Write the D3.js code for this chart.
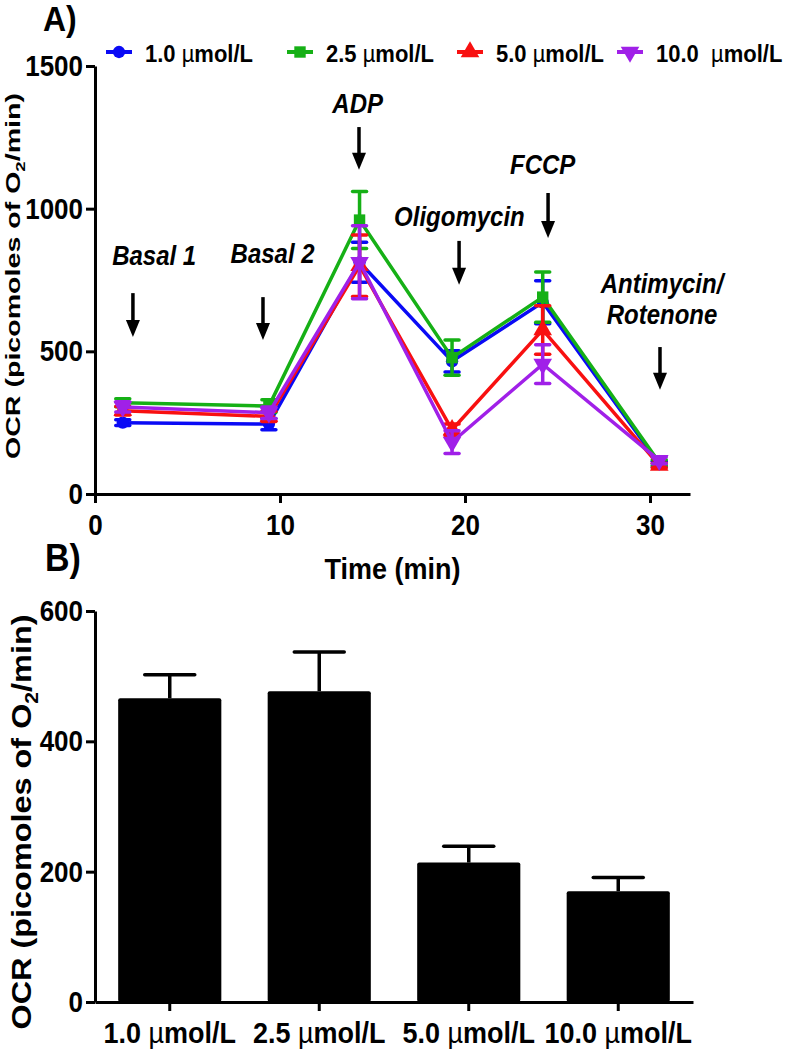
<!DOCTYPE html>
<html><head><meta charset="utf-8">
<script src="https://cdn.jsdelivr.net/npm/d3@7/dist/d3.min.js"></script>
<style>
body{margin:0;background:#fff}
svg text{font-family:Arial,"Liberation Sans",sans-serif;font-weight:bold;fill:#000}
svg text.st{transform-box:fill-box;transform-origin:center;transform:scaleY(1.12)}
</style>
</head><body>
<svg id="c" width="788" height="1050"></svg>
<script>
// ---------- DATA ----------
const times = [1.5, 9.4, 14.3, 19.3, 24.2, 30.5];           // min
const concentrations = ["1.0", "2.5", "5.0", "10.0"];
const unit = "µmol/L";
const seriesColors = ["#0a0af5", "#16b016", "#f81010", "#a020e8"];
const seriesSymbols = ["circle", "square", "triangle", "triangleDown"];
const ocr_1_0  = [250, 245, 812, 465, 672, 105];
const err_1_0  = [10, 20, 70, 37, 75, 10];
const ocr_2_5  = [320, 308, 960, 478, 690, 110];
const err_2_5  = [14, 22, 100, 62, 88, 10];
const ocr_5_0  = [292, 272, 800, 225, 575, 100];
const err_5_0  = [15, 18, 108, 20, 85, 8];
const ocr_10_0 = [305, 285, 812, 182, 455, 118];
const err_10_0 = [18, 20, 128, 40, 68, 12];
const xTicksA = [0, 10, 20, 30];
const yTicksA = [0, 500, 1000, 1500];
// annotations (data units): label lines, label x, label baseline, arrow x, arrow top, arrow tip
const annLabels = [["Basal 1"], ["Basal 2"], ["ADP"], ["Oligomycin"], ["FCCP"], ["Antimycin/", "Rotenone"]];
const annLabelX = [3.2, 9.6, 14.2, 19.7, 24.2, 30.65];
const annLabelY = [806, 813, 1339, 943, 1125, 708];
const annArrowX = [2.05, 9.08, 14.27, 19.68, 24.49, 30.54];
const annArrowTop = [704, 690, 1286, 887, 1055, 515];
const annArrowTip = [550, 540, 1136, 733, 897, 365];
// Panel B
const barCategories = ["1.0 µmol/L", "2.5 µmol/L", "5.0 µmol/L", "10.0 µmol/L"];
const barValues = [466, 477, 214, 170];
const barErrors = [36, 60, 25, 21];
const yTicksB = [0, 200, 400, 600];

// ---------- LAYOUT ----------
const svg = d3.select("#c");
const AX = {left: 95, right: 690, top: 66, bottom: 494};
const BX = {left: 95, right: 693, top: 611, bottom: 1002};
const legendX = [106, 287, 457, 617];
const legendY = 52;

function styleAxis(g, fs) {
  g.select(".domain").attr("stroke", "#000").attr("stroke-width", 3);
  g.selectAll(".tick line").attr("stroke", "#000").attr("stroke-width", 3);
  g.selectAll(".tick text").attr("font-size", fs).attr("font-family", null).attr("fill", "#000").classed("st", true);
}

// ---------- PANEL A ----------
const xA = d3.scaleLinear().domain([0, (AX.right - AX.left) / 18.5]).range([AX.left, AX.right]);
const yA = d3.scaleLinear().domain([0, 1500]).range([AX.bottom, AX.top]);

const gxA = svg.append("g").attr("transform", `translate(0,${AX.bottom})`)
  .call(d3.axisBottom(xA).tickValues(xTicksA).tickFormat(d3.format("d")).tickSize(9).tickSizeOuter(0).tickPadding(12));
styleAxis(gxA, 26);
const gyA = svg.append("g").attr("transform", `translate(${AX.left},0)`)
  .call(d3.axisLeft(yA).tickValues(yTicksA).tickFormat(d3.format("d")).tickSize(9).tickSizeOuter(0).tickPadding(3));
styleAxis(gyA, 26);

svg.append("text").attr("class", "st").attr("x", (AX.left + AX.right) / 2).attr("y", 578)
  .attr("text-anchor", "middle").attr("font-size", 27).text("Time (min)");

function yLabel(cx, cy, fs, len) {
  const t = svg.append("text").attr("transform", `translate(${cx},${cy}) rotate(-90)`)
    .attr("text-anchor", "middle").attr("font-size", fs)
    .attr("textLength", len).attr("lengthAdjust", "spacingAndGlyphs");
  t.append("tspan").text("OCR (picomoles of O");
  t.append("tspan").attr("font-size", fs * 0.65).attr("dy", fs * 0.25).text("2");
  t.append("tspan").attr("dy", -fs * 0.25).text("/min)");
}
yLabel(20, 276, 20, 366);

svg.append("text").attr("class", "st").attr("x", 43).attr("y", 30).attr("font-size", 32).text("A)");

const allSeries = [ocr_1_0, ocr_2_5, ocr_5_0, ocr_10_0];
const allErrs = [err_1_0, err_2_5, err_5_0, err_10_0];
const symTypes = {circle: d3.symbolCircle, square: d3.symbolSquare, triangle: d3.symbolTriangle, triangleDown: d3.symbolTriangle};
const symSize = {circle: 120, square: 130, triangle: 150, triangleDown: 150};
function drawSymbol(g, type, x, y, color) {
  g.append("path").attr("d", d3.symbol(symTypes[type], symSize[type])())
    .attr("transform", `translate(${x},${y})` + (type === "triangleDown" ? " rotate(180)" : ""))
    .attr("fill", color);
}

const line = d3.line().x((d, i) => xA(times[i])).y(d => yA(d));
allSeries.forEach((vals, s) => {
  const col = seriesColors[s];
  const g = svg.append("g");
  g.append("path").attr("d", line(vals)).attr("fill", "none").attr("stroke", col).attr("stroke-width", 3.5);
  vals.forEach((v, i) => {
    const x = xA(times[i]), e = allErrs[s][i];
    g.append("line").attr("x1", x).attr("x2", x).attr("y1", yA(v - e)).attr("y2", yA(v + e))
      .attr("stroke", col).attr("stroke-width", 3.5);
    [v - e, v + e].forEach(c => g.append("line").attr("x1", x - 7).attr("x2", x + 7)
      .attr("y1", yA(c)).attr("y2", yA(c)).attr("stroke", col).attr("stroke-width", 3.5).attr("stroke-linecap", "round"));
    drawSymbol(g, seriesSymbols[s], x, yA(v), col);
  });
});

// annotations
annLabels.forEach((lines, i) => {
  lines.forEach((l, k) => svg.append("text").attr("class", "st").attr("text-anchor", "middle")
    .attr("font-size", 24).attr("font-style", "italic")
    .attr("x", xA(annLabelX[i])).attr("y", yA(annLabelY[i]) + k * 31).text(l));
  const ax = xA(annArrowX[i]), y0 = yA(annArrowTop[i]), y1 = yA(annArrowTip[i]);
  svg.append("line").attr("x1", ax).attr("x2", ax).attr("y1", y0).attr("y2", y1 - 14)
    .attr("stroke", "#000").attr("stroke-width", 3.5);
  svg.append("path").attr("d", `M${ax - 7},${y1 - 17}L${ax + 7},${y1 - 17}L${ax},${y1}Z`).attr("fill", "#000");
});

// legend
concentrations.forEach((c, s) => {
  const x0 = legendX[s], col = seriesColors[s];
  svg.append("line").attr("x1", x0).attr("x2", x0 + 26).attr("y1", legendY).attr("y2", legendY)
    .attr("stroke", col).attr("stroke-width", 4);
  drawSymbol(svg, seriesSymbols[s], x0 + 13, legendY, col);
  const t = svg.append("text").attr("class", "st").attr("x", x0 + 39).attr("y", legendY + 9).attr("font-size", 22)
    .attr("xml:space", "preserve");
  t.append("tspan").text(c + (c === "10.0" ? "  " : " "));
  t.append("tspan").attr("font-weight", "normal").text("µ");
  t.append("tspan").text("mol/L");
});

// ---------- PANEL B ----------
const xB = d3.scaleBand().domain(barCategories).range([BX.left, BX.right]).paddingInner(0.31).paddingOuter(0.155);
const yB = d3.scaleLinear().domain([0, 600]).range([BX.bottom, BX.top]);

svg.append("g").selectAll("rect").data(barCategories).join("rect")
  .attr("x", d => xB(d)).attr("width", xB.bandwidth())
  .attr("y", (d, i) => yB(barValues[i])).attr("height", (d, i) => yB(0) - yB(barValues[i]))
  .attr("rx", 2).attr("fill", "#000");
barCategories.forEach((c, i) => {
  const cx = xB(c) + xB.bandwidth() / 2;
  const top = yB(barValues[i] + barErrors[i]);
  svg.append("line").attr("x1", cx).attr("x2", cx).attr("y1", yB(barValues[i])).attr("y2", top)
    .attr("stroke", "#000").attr("stroke-width", 3.5);
  svg.append("line").attr("x1", cx - 25).attr("x2", cx + 25).attr("y1", top).attr("y2", top)
    .attr("stroke", "#000").attr("stroke-width", 3.5).attr("stroke-linecap", "round");
});

const gxB = svg.append("g").attr("transform", `translate(0,${BX.bottom})`)
  .call(d3.axisBottom(xB).tickSize(9).tickSizeOuter(0).tickPadding(12));
styleAxis(gxB, 27);
gxB.selectAll(".tick text").each(function(d) {
  const t = d3.select(this), parts = d.split("µ");
  t.text(null);
  t.append("tspan").text(parts[0]);
  t.append("tspan").attr("font-weight", "normal").text("µ");
  t.append("tspan").text(parts[1]);
});
const gyB = svg.append("g").attr("transform", `translate(${BX.left},0)`)
  .call(d3.axisLeft(yB).tickValues(yTicksB).tickFormat(d3.format("d")).tickSize(9).tickSizeOuter(0).tickPadding(3));
styleAxis(gyB, 26);

yLabel(31, 822, 28, 415);
svg.append("text").attr("class", "st").attr("x", 45).attr("y", 570).attr("font-size", 34).text("B)");
</script>
</body></html>
